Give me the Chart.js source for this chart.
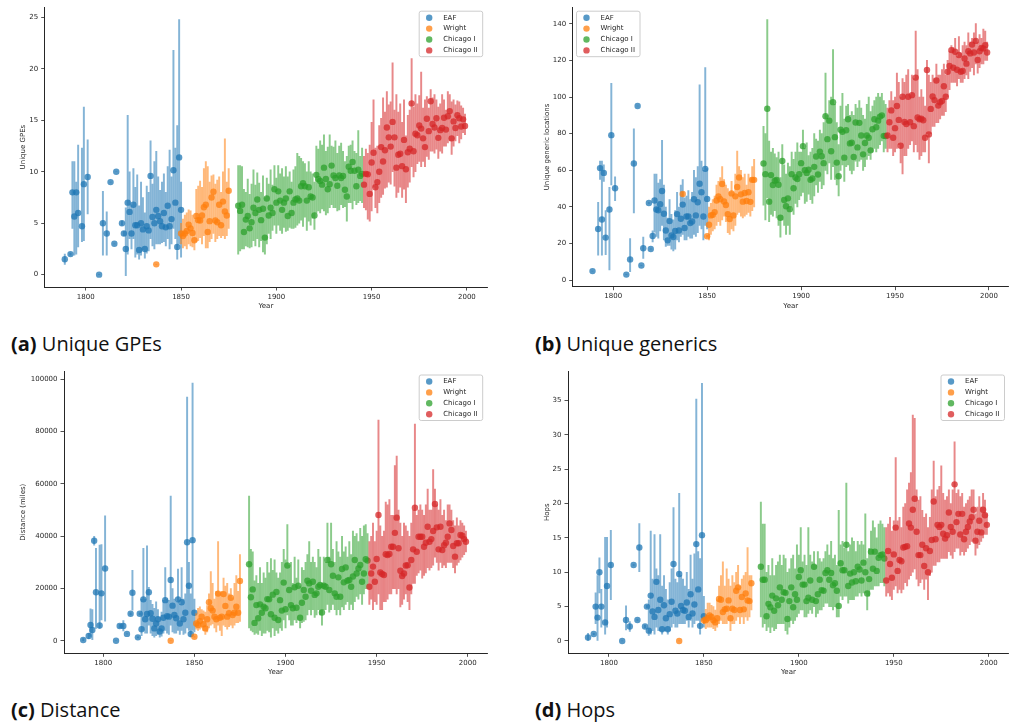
<!DOCTYPE html>
<html>
<head>
<meta charset="utf-8">
<script src="https://cdn.jsdelivr.net/npm/chart.js@4.4.0/dist/chart.umd.min.js"></script>
<style>
body { margin: 0; background: #fff; width: 1012px; height: 727px; position: relative; overflow: hidden; }
canvas { position: absolute; }
.cap { position: absolute; font-family: "Open Sans", sans-serif; font-size: 20px; line-height: 24px; color: #111; white-space: nowrap; }
.cap b { font-weight: 700; }
</style>
</head>
<body>
<canvas id="cA" width="500" height="320" style="left:0;top:0"></canvas>
<canvas id="cB" width="512" height="320" style="left:500px;top:0"></canvas>
<canvas id="cC" width="500" height="320" style="left:0;top:360px"></canvas>
<canvas id="cD" width="512" height="320" style="left:500px;top:360px"></canvas>
<div class="cap" style="left:11px;top:332px"><b>(a)</b> Unique GPEs</div>
<div class="cap" style="left:535px;top:332px"><b>(b)</b> Unique generics</div>
<div class="cap" style="left:11px;top:698px"><b>(c)</b> Distance</div>
<div class="cap" style="left:535px;top:698px"><b>(d)</b> Hops</div>
<script>
"use strict";
// series and years
var names = ["EAF", "Wright", "Chicago I", "Chicago II"];
var eafYears = [1789,1792,1793,1794,1795,1796,1798,1799,1801,1807,1809,1811,1813,1815,1816,1819,1820,
  1821,1822,1823,1824,1825,1826,1827,1828,1829,1830,1831,1832,1833,1834,1835,1836,1837,1838,1839,1840,
  1841,1842,1843,1844,1845,1846,1847,1848,1849,1850];
var wrightYears = [1837,1850,1851,1852,1853,1854,1855,1856,1857,1858,1859,1860,1861,1862,1863,1864,1865,
  1866,1867,1868,1869,1870,1871,1872,1873,1874,1875];
var chi1Years = [1880,1881,1882,1883,1884,1885,1886,1887,1888,1889,1890,1891,1892,1893,1894,1895,1896,1897,1898,1899,
  1900,1901,1902,1903,1904,1905,1906,1907,1908,1909,1910,1911,1912,1913,1914,1915,1916,1917,1918,1919,
  1920,1921,1922,1923,1924,1925,1926,1927,1928,1929,1930,1931,1932,1933,1934,1935,1936,1937,1938,1939,
  1940,1941,1942,1943,1944,1945];
var chi2Years = [1946,1947,1948,1949,1950,1951,1952,1953,1954,1955,1956,1957,1958,1959,1960,1961,1962,1963,1964,1965,
  1966,1967,1968,1969,1970,1971,1972,1973,1974,1975,1976,1977,1978,1979,1980,1981,1982,1983,1984,1985,
  1986,1987,1988,1989,1990,1991,1992,1993,1994,1995,1996,1997,1998,1999];

// tick labels
var yearTicks = [1800, 1850, 1900, 1950, 2000];
var gpeTicks = [0, 5, 10, 15, 20, 25];
var genTicks = [0, 20, 40, 60, 80, 100, 120, 140];
var distTicks = [0, 20000, 40000, 60000, 80000, 100000];
var hopTicks = [0, 5, 10, 15, 20, 25, 30, 35];

// (a) unique GPEs
var gpeEaf = [1.5,2.0,8.0,5.65,8.0,6.0,4.7,8.8,9.5,0.0,5.0,4.0,9.0,3.0,10.0,5.0,4.0,
  2.5,7.0,6.1,4.0,6.8,4.8,4.8,2.4,5.0,4.4, 2.5,4.7,4.3,9.6,5.6,5.0,6.3,5.7,5.2,4.7,
  6.0,4.6,6.7,4.7,5.4,10.15,7.0,2.7,11.4,6.3];
var gpeEafLo = [1.0,1.9,4.5,1.9,2.0,2.7,3.2,3.3,5.9,0,1.9,1.9,9,3,10,4.8,3.8,
  -0.1,2.0,3.5,2.5,3.5,1.7,2.0,1.5,1.9,2.4, 1.6,2.1,2.3,3.5,2.8,2.5,3.0,3.0,3.0,3.1,
  3.2,2.8,3.5,2.5,3.0,4.5,3.5,1.5,3.0,1.7];
var gpeEafHi = [2.0,2.1,11.0,11.0,9.0,12.6,12.3,16.3,13.1,0,8.1,6.1,9,3,10,5.2,4.2,
  6.5,15.5,10.0,6.8,10.3,8.5,9.7,6.7,9.0,7.5, 6.0,8.6,8.0,13.0,8.8,11.0,12.0,9.5,8.2,9.0,
  9.8,8.0,10.5,12.1,9.5,21.8,12.3,14.5,24.8,9.0];
var gpeWright = [1.0,4.0,3.76,4.0,4.24,4.85,4.5,4.05,3.34,5.7,5.3,5.27,5.75,6.55,6.8,4.15,5.2,7.5,8.06,5.27,5.1,6.8,4.8,7.1,6.15,5.75,8.16];
var gpeWrightLo = [1.0,3.0,2.6,2.8,2.5,3.0,2.8,2.7,2.4,3.2,3.3,3.6,3.0,3.8,2.6,2.6,3.2,3.5,4.0,3.2,3.5,3.8,3.6,3.8,3.5,3.8,4.5];
var gpeWrightHi = [1.0,5.0,5.4,5.8,6.0,6.3,6.2,5.8,5.5,8.3,8.6,9.1,8.5,10.3,11.0,10.5,9.0,9.6,9.7,8.8,9.2,9.5,8.0,10.0,13.2,9.0,10.3];
var gpeChi1 = [6.7,6.2,6.8,4.15,5.35,5.7,4.5,5.1,6.5,6.0, 7.3,6.3,5.3,6.4,3.6,7.4,5.75,6.5,6.0,8.3,
  7.0,8.1,7.2,6.3,7.0,7.4,5.7,8.1,6.0,7.0, 7.3,7.4,7.2,8.6,8.9,8.6,7.2,8.5,7.6,7.5,
  5.75,9.7,9.3,9.1,8.75,10.4,9.3,8.3,8.8,10.6, 9.65,9.4,8.65,9.65,9.4,9.6,8.25,7.6,10.5,10.1,
  10.95,10.1,8.6,10.2,9.6,9.8];
var gpeChi1Lo = [2.0,2.3,2.5,2.5,2.8,2.7,2.6,2.7,3.3,2.8, 3.5,2.7,3.3,2.2,2.0,3.0,4.0,3.5,4.3,4.8,
  4.0,4.8,4.3,4.0,4.6,4.2,4.3,4.6,4.5,4.5, 4.6,4.8,5.0,5.3,4.7,5.6,4.3,5.2,4.8,5.5,
  4.4,6.0,6.2,6.0,6.4,6.2,5.8,6.0,6.5,6.8, 6.5,6.5,6.2,6.3,6.8,6.5,6.6,5.2,7.0,7.0,
  6.4,7.2,6.8,7.0,7.2,7.0];
var gpeChi1Hi = [10.6,10.6,10.5,8.3,8.0,9.3,7.8,8.8,10.2,8.7, 9.9,8.9,8.0,9.6,7.5,9.4,8.8,10.2,8.7,10.6,
  9.4,10.6,9.8,10.3,9.5,10.5,9.5,10.0,9.0,10.2, 10.5,11.8,11.5,11.3,11.0,10.8,10.0,11.0,10.0,9.8,
  9.0,12.5,12.2,13.0,12.6,13.6,12.0,12.4,13.6,12.5, 12.4,13.0,11.8,12.5,12.8,12.0,11.0,11.5,12.5,12.6,
  13.0,12.0,11.8,14.0,11.5,12.3];
var gpeChi2 = [8.75,9.8,9.75,7.85,10.9,11.85,8.5,9.0,10.0,12.4, 11.0,12.1,14.3,13.35,12.45,14.85,13.35,10.4,11.65,11.75,
  10.55,13.1,10.25,11.9,12.25,16.65,12.0,13.7,13.55,14.5, 14.2,13.25,12.4,15.15,13.95,16.85,14.65,14.3,15.2,13.3,
  14.05,14.25,15.25,14.1,15.4,15.9,13.25,14.9,14.25,15.5, 15.2,14.4,15.1,14.45];
var gpeChi2Lo = [6.5,6.3,5.4,5.2,6.2,8.5,6.5,6.0,7.0,7.5, 7.8,8.4,8.5,9.0,8.8,10.0,8.6,7.5,8.0,8.5,
  7.5,8.3,7.0,8.5,9.0,10.5,9.5,10.0,10.8,11.0, 10.5,11.0,10.5,11.5,11.2,12.0,12.0,11.8,12.2,11.3,
  12.0,11.8,12.5,12.5,12.8,13.0,11.7,12.5,13.0,13.5, 12.8,13.2,13.8,13.6];
var gpeChi2Hi = [11.5,12.2,11.8,12.6,14.8,17.0,12.3,12.5,14.5,15.2, 17.2,15.8,17.8,16.5,16.8,20.6,16.0,17.5,15.8,16.6,
  14.8,17.0,13.5,15.5,16.0,21.0,16.3,17.5,16.6,17.4, 19.7,16.2,17.0,17.3,16.2,18.0,17.2,17.5,17.0,16.3,
  16.6,17.5,17.0,16.0,17.8,17.5,16.8,17.0,16.5,16.9, 16.8,16.4,16.2,15.6];

// (b) unique generic locations
var genEaf = [5.0,28.0,61.2,33.2,58.6,23.3,38.6,79.2,50.2,3.1,11.4,63.7,95.1,8.1,17.5,42.2,17.1,
  24.2,43.5,38.6,38.2,41.5,48.7,36.3,27.2,21.8,32.3, 24.5,23.6,26.9,36.1,27.2,33.6,41.3,28.5,34.8,34.8,
  31.2,32.1,44.2,35.4,42.6,52.7,48.0,34.8,60.8,44.4];
var genEafLo = [5.0,13.7,55,13.7,54,14,5.6,52,43.5,3.1,4.7,36.8,95.1,8.1,11.9,42,17,
  21,26.3,24,23,27,30,22,18.5,19,19, 17,16,17,22,21,24,25,22,22,24,
  23,23,25,24,26,30,28,22,30,28];
var genEafHi = [5.0,42.6,65,65,63,38,50.7,107.5,56.5,3.1,22.7,82.6,95.1,8.1,23.6,42.4,17.2,
  27,57.9,58,53,55,76.3,52,40,34,44, 36,33,38,48,40,52,55,45,46,49,
  44,48,60,56,62,106.6,65,60,116,61];
var genWright = [47.1,24.0,30.3,35.4,35.7,37.2,43.5,45.8,44.2,52.5,43,41.1,36.1,33.4,47.4,35.4,45.8,50.9,56.1,46.9,42.9,47.6,43.3,48.0,42.8,54.8,54.8];
var genWrightLo = [46,23.5,22,25,27,28,30,32,30,33,35,32,26,25,28,27,30,36,37,35,34,35,36,37,35,38,40];
var genWrightHi = [48,24.5,40,42,44,46,52,54,56,62,55,52,50,48,54,48,58,70.5,62,60,56,58,52,58,56,62,66];
var genChi1 = [63.7,57.9,93.6,42.9,57.4,52,54.3,54.7,52.1,34.1, 65.1,43.8,40.4,44.7,38.8,57.9,50.2,56.1,55.2,57.9,
  63.9,73.2,60.1,58.6,60.3,54.8,55.6,61.9,67.5,57.7, 70.2,67.7,63.9,89.5,77,87.1,70.4,97.2,78.1,64.2,
  56.8,82.1,81,66.9,81.9,87.9,74.7,75.1,67.3,86.1, 72.5,85.9,79,68.7,74.9,79,77.8,70.9,82.4,87.9,
  83.5,87.1,89.3,90,78.8,78.7];
var genChi1Lo = [41,33,45,32,36,35,38,34,30,23.5, 33,30,25,30,25,40,36,42,40,44,
  46,48,42,43,47,44,42,46,52,48, 54,50,52,60,58,64,55,62,55,52,
  46,60,63,54,62,63,60,58,60,65, 62,65,66,60,62,66,68,66,70,72,
  70,72,74,76,70,72];
var genChi1Hi = [84,80,142.3,76,70,72,69,67,70,56, 74,63,58,64,62,70,66,70,75,70,
  70,82,72,75,68,70,72,80,77,76, 82,80,86,113,90,98,100,125.9,96,86,
  74,95,102,88,95,96,90,92,90,96, 94,98,94,90,88,96,100,92,95,98,
  100,102,100,102,98,96];
var genChi2 = [79,86.2,92.7,77.8,83,95.1,87.5,73.4,100.1,86.4, 85.3,100.1,86.2,101,84.1,110.6,88.8,87.9,88.2,87.3,
  77.8,114.7,79.6,93.5,100.3,98.3,109,95.3,97.1,97.8, 105.9,100.1,113.8,116.9,125.6,116,124.7,114.9,122.9,113.8,
  114.2,121,118.2,125,123.8,128.6,124.3,130.6,120.2,125, 126.8,126.5,128.3,124.3];
var genChi2Lo = [70,72,72,68,70,72,74,64,58,68, 68,72,74,76,70,74,70,66,68,70,
  70,80,64,80,84,84,86,86,88,90, 90,92,100,104,108,108,108,106,110,108,
  108,110,112,110,114,116,112,118,113,116, 118,118,120,120];
var genChi2Hi = [94,98,103,98,100,113,108,100,110,108, 112,115,100,112,110,136,115,100,104,100,
  95,120,112,108,112,110,118,112,112,115, 118,112,120,125,128,127,132,122,133,124,
  128,130,128,135,130,132,135,140,130,134, 132,137,136,130];

// (c) distance in miles
var distEaf = [400,1900,6100,4200,38300,18600,5900,18200,27700,100,5700,5700,2700,10400,18400,1400,10400,
  4500,15900,8300,10300,18600,10600,8500,4800,6700,8300, 3600,4800,8900,15600,9500,9300,23300,13500,9900,8700,
  15900,6700,14800,8300,10800,37700,21100,2700,38500,10800];
var distEafLo = [0,900,1700,500,36600,4800,4800,8000,7600,100,5000,3800,2700,10000,11800,1200,10000,
  2000,4000,3000,3000,6000,3000,2000,1500,2000,2500, 1500,1800,3000,4000,3000,2500,6000,3500,3000,3000,
  4000,2500,4000,2500,3000,5000,4000,1500,4000,3500];
var distEafHi = [900,2900,12300,12000,40000,35400,36600,36800,47800,100,6400,7800,2700,10800,27000,1600,10800,
  16000,35400,16000,36300,20500,15500,14000,12500,15000,12000, 9000,11000,15500,28000,16000,15500,55300,20000,16000,15000,
  27500,14000,28000,16000,18000,93100,30000,18000,98500,16000];
var distWright = [100,1600,6700,6100,7600,9300,6400,4800,8300,14800,12500,11600,9300,8300,18100,8900,9300,17900,13400,9300,10600,16500,9900,10800,13100,10800,22900];
var distWrightLo = [100,1500,4500,4000,4500,5000,4000,2500,3500,5000,6000,6500,5000,3500,6000,4000,2000,6000,5500,4500,5500,6000,5000,6000,7000,7000,7500];
var distWrightHi = [100,1700,10500,12500,13000,12000,11500,11000,13500,18000,26500,22000,16000,19000,38000,18500,19000,24000,21000,22000,18000,20000,16500,22000,25000,19000,33000];
var distChi1 = [29300,16700,19700,6900,13700,8700,14000,10800,13100,12500, 16000,15900,10200,17700,8900,18700,8000,15600,11600,22300,
  12100,28800,19500,13700,12500,20500,12700,21100,8900,14600, 19500,16900,23000,22000,19200,22600,17600,18200,20700,21400,
  10900,21100,20700,30900,19500,29300,24900,18200,16900,24300, 16900,27500,22400,28100,23000,23300,20700,24600,30900,25800,
  27700,29000,22600,25800,31200,30700];
var distChi1Lo = [5000,4000,3500,2500,3000,2500,4000,2000,3000,3000, 4000,3500,1500,5000,2000,4000,3000,5000,4000,8000,
  5000,10000,8000,6000,6000,8000,7000,8000,5000,7000, 7500,8000,10000,12000,10000,12000,9000,10000,12000,10000,
  6000,12000,12000,14000,11000,12000,14000,12000,10000,12000, 10000,13000,12000,14000,15000,12000,14000,12000,15000,17000,
  16000,18000,14000,18000,20000,20000];
var distChi1Hi = [55300,35000,34000,23000,25000,22000,28000,22000,26000,24000, 30000,26000,31500,27000,31000,26000,24000,26000,30000,35000,
  31000,44500,29000,30000,22000,32000,24000,31000,21000,28000, 27000,30000,33000,38000,30000,32000,30000,28000,35000,32000,
  22000,32000,30000,45000,32000,45000,35000,30000,38000,34000, 32000,40000,34000,36000,32000,38000,33000,42000,40000,41000,
  38000,43000,40000,44000,44500,41000];
var distChi2 = [20700,25800,28400,22600,31300,48100,26200,25600,25200,33100, 32800,33200,36000,36000,41300,47100,35400,26800,24800,25800,
  28800,28900,20400,30900,35000,50900,34100,39800,39800,39800, 36000,37500,43600,37900,38900,42000,52300,43400,35000,43600,
  34700,36600,37500,39800,44900,42400,36300,32200,37300,37300, 40500,40200,38900,37900];
var distChi2Lo = [14000,16000,12000,15000,14000,18000,12000,12000,15000,15000, 16000,18000,18000,20000,20000,18000,20000,13000,14000,16000,
  18000,15000,12000,18000,22000,22000,25000,26000,27000,24000, 25000,26000,28000,27000,28000,29000,32000,30000,27000,30000,
  28000,29000,28000,30000,30000,30000,28000,26000,29000,30000, 31000,32000,33000,34000];
var distChi2Hi = [38000,40000,45000,38000,42000,84400,44000,40000,42000,53000, 52000,54000,48000,48000,67000,70600,50000,45000,40000,45000,
  44000,42000,40000,45000,50000,82800,48000,50000,52000,50000, 48000,52000,58000,50000,50000,65500,58000,52000,50000,54000,
  48000,50000,46000,52000,52000,50000,46000,44000,47000,44000, 46000,45000,44000,42000];

// (d) hops
var hopEaf = [0.5,1.0,5.0,3.4,10.0,5.0,2.7,8.0,11.05,0,3.05,2.1,11.05,3.05,13.6,2.1,5.0,
  1.5,6.6,4.3,3.5,8.6,4.5,6.0,1.7,5.2,3.3, 1.7,3.9,5.7,11.2,4.4,4.0,9.75,5.1,4.5,4.4,
  5.6,3.5,6.8,4.0,5.3,14.1,7.5,2.2,15.4,3.6];
var hopEafLo = [0,0.9,2.5,0,7.0,2.0,1.0,2.0,6.0,0,1.6,1.4,11,3,10.1,1.9,4.8,
  0.8,1.0,1.5,1.0,2.0,1.5,1.5,1.0,1.5,1.5, 1.0,1.5,2.0,2.5,2.0,2.0,2.5,2.5,2.5,2.5,
  3.0,2.0,3.0,2.0,2.5,3.0,3.0,1.0,3.0,2.0];
var hopEafHi = [1.1,1.1,7.0,9.5,12.1,7.5,15.1,15.1,16.1,0,5.1,2.8,11.1,3.1,17.1,2.3,5.2,
  6.0,16.0,9.0,15.5,10.5,9.5,15.5,8.0,9.5,7.5, 6.0,8.5,10.5,19.4,9.0,8.5,21.5,9.5,9.0,8.0,
  10.0,7.5,12.5,9.0,12.7,35.2,13.0,12.0,37.5,6.5];
var hopWright = [0,3.0,3.0,3.3,3.7,3.5,3.0,2.7,3.3,6.1,6.0,4.2,4.6,4.7,5.9,3.3,4.7,4.5,7.3,7.8,4.5,6.4,4.6,6.9,5.9,5.8,8.4];
var hopWrightLo = [0,2.5,1.8,2.0,2.0,2.0,1.8,1.5,2.0,2.5,3.0,2.5,2.5,2.5,3.0,1.5,2.5,2.5,3.0,3.5,2.5,3.5,2.5,3.5,3.0,3.5,4.5];
var hopWrightHi = [0,3.5,4.6,5.5,5.5,5.2,5.0,4.5,6.0,8.0,9.5,11.5,8.0,10.5,9.0,8.0,9.5,8.5,10.0,11.0,8.0,9.0,9.5,10.0,13.6,9.5,9.5];
var hopChi1 = [10.8,8.9,8.9,3.6,5.4,4.9,6.6,4.4,6.2,5.2, 7.8,6.0,7.1,7.0,3.2,5.8,7.8,4.9,6.8,6.0,
  9.3,10.3,8.2,8.2,5.8,6.3,8.8,6.0,10.8,5.8, 6.8,8.9,7.4,7.3,9.9,10.3,8.9,9.9,8.1,8.4,
  7.3,5.1,11.3,10.3,10.3,14.0,8.0,9.8,8.5,10.0, 8.7,10.8,10.4,8.8,11.4,10.0,6.9,9.0,13.0,10.5,
  13.0,10.2,12.1,12.5,12.6,12.0];
var hopChi1Lo = [3.5,2.0,2.5,1.5,2.0,1.2,2.0,1.5,1.8,2.5, 2.5,2.5,2.5,1.5,1.0,2.0,3.0,2.5,3.0,3.5,
  4.0,4.5,4.5,3.5,3.5,4.0,4.5,4.0,5.0,3.5, 4.0,4.5,4.5,5.0,5.5,5.5,5.0,5.0,4.5,5.0,
  3.5,3.5,6.5,6.0,6.5,6.5,5.5,6.0,6.0,6.0, 6.5,6.5,7.0,6.5,7.0,7.0,4.5,6.5,7.5,7.5,
  8.0,8.0,8.0,8.5,8.5,8.0];
var hopChi1Hi = [20.2,17.0,17.0,10.0,11.0,9.5,12.0,9.5,11.0,11.5, 12.5,11.0,12.5,12.0,10.0,10.5,12.0,12.5,10.5,14.0,
  12.5,16.5,11.5,12.5,11.0,16.5,12.5,11.5,13.0,11.0, 13.0,12.0,11.5,12.0,13.0,14.0,12.5,14.5,12.0,12.5,
  11.0,19.0,14.0,14.5,13.5,23.0,13.0,14.0,15.0,14.5, 13.0,14.5,14.0,14.5,14.0,18.5,12.0,13.5,16.0,17.5,
  16.5,15.0,17.0,17.5,17.0,16.5];
var hopChi2 = [8.8,13.1,11.2,9.2,12.6,16.5,10.2,11.8,11.6,13.6, 13.7,13.8,17.1,16.5,19.1,20.7,15.9,12.5,12.5,14.0,
  10.9,13.5,10.0,13.1,14.7,20.3,14.8,16.9,16.6,16.9, 15.6,14.9,15.4,18.7,16.6,15.9,22.8,17.3,18.5,15.5,
  18.5,14.8,15.9,16.6,17.4,18.0,19.1,14.6,15.9,17.5, 15.8,19.1,18.3,16.9];
var hopChi2Lo = [6.5,7.0,6.5,6.0,7.5,8.0,7.0,7.5,7.0,7.5, 8.5,8.0,9.0,9.5,10.0,10.5,9.0,8.0,8.5,9.0,
  7.5,9.0,6.0,9.5,10.0,11.0,11.0,11.5,11.5,12.0, 12.0,12.0,12.0,13.0,12.5,12.0,13.0,13.5,13.5,12.5,
  13.0,12.5,13.0,13.5,14.0,14.5,14.5,12.5,13.5,14.0, 14.5,15.0,15.5,15.5];
var hopChi2Hi = [16.5,17.0,18.0,16.0,17.5,26.7,17.5,18.0,16.5,19.5, 20.0,22.0,23.0,24.5,32.9,32.4,22.0,20.5,21.0,19.0,
  18.0,18.5,16.5,18.0,22.0,26.2,21.0,22.0,22.5,25.5, 21.5,20.5,21.0,22.0,20.0,22.0,29.0,21.5,22.0,21.0,
  21.5,19.5,20.0,20.5,21.0,22.0,22.0,18.5,19.5,21.0, 19.5,21.5,20.5,18.5];

var rgb = ["31,119,180", "255,127,14", "44,160,44", "214,39,40"];
var ink = "#262626";
var font7 = { family: "DejaVu Sans", size: 7 };

// matplotlib-like legend box with a frame
var legendBox = {
  id: "legendBox",
  afterDatasetsDraw: function(chart, args, opts) {
    var ctx = chart.ctx, a = chart.chartArea;
    var w = 63.5, h = 45.5;
    var x = opts.side === "left" ? a.left + 3.8 : a.right - 4.3 - w;
    var y = a.top + 4;
    ctx.save();
    ctx.fillStyle = "rgba(255,255,255,0.8)";
    ctx.strokeStyle = "#cccccc";
    ctx.lineWidth = 1;
    ctx.beginPath();
    ctx.roundRect(x, y, w, h, 2);
    ctx.fill();
    ctx.stroke();
    ctx.font = '7px "DejaVu Sans"';
    ctx.textBaseline = "middle";
    names.forEach(function(n, i) {
      var cy = y + 6.5 + i * 10.9;
      ctx.fillStyle = "rgba(" + rgb[i] + ",0.75)";
      ctx.beginPath();
      ctx.arc(x + 10, cy, 3.2, 0, Math.PI * 2);
      ctx.fill();
      ctx.fillStyle = ink;
      ctx.fillText(n, x + 24, cy);
    });
    ctx.restore();
  }
};

function buildSets(years, vals, los, his) {
  var sets = [];
  for (var s = 0; s < 4; s++) {
    var yrs = years[s];
    sets.push({
      type: "bar",
      label: names[s] + " CI",
      data: yrs.map(function(x, i) { return { x: x, y: [los[s][i], his[s][i]] }; }),
      backgroundColor: "rgba(" + rgb[s] + ",0.55)",
      borderWidth: 0,
      grouped: false,
      barThickness: 1.3,
      maxBarThickness: 1.3,
      order: 8 - 2 * s
    });
    sets.push({
      type: "scatter",
      label: names[s],
      data: yrs.map(function(x, i) { return { x: x, y: vals[s][i] }; }),
      backgroundColor: "rgba(" + rgb[s] + ",0.75)",
      pointRadius: 3.2,
      pointHoverRadius: 3.2,
      pointBorderWidth: 0,
      order: 7 - 2 * s
    });
  }
  return sets;
}

function drawPanel(id, p) {
  var cv = document.getElementById(id);
  var W = cv.width, H = cv.height;
  new Chart(cv, {
    type: "scatter",
    data: { datasets: buildSets([eafYears, wrightYears, chi1Years, chi2Years], p.vals, p.los, p.his) },
    plugins: [legendBox],
    options: {
      responsive: false,
      animation: false,
      devicePixelRatio: 1,
      layout: { padding: { left: 0, top: p.area.t, right: W - p.area.r, bottom: 0 } },
      plugins: {
        legend: { display: false },
        tooltip: { enabled: false },
        legendBox: { side: p.side }
      },
      scales: {
        x: {
          type: "linear",
          offset: false,
          min: 1778.45,
          max: 2010.55,
          afterBuildTicks: function(s) { s.ticks = yearTicks.map(function(v) { return { value: v }; }); },
          afterFit: function(s) { s.height = H - p.area.b; },
          grid: { display: true, drawOnChartArea: false, drawTicks: true, tickLength: 3.5, color: ink, lineWidth: 0.8, offset: false },
          border: { display: true, color: ink, width: 1 },
          ticks: { font: font7, color: ink, padding: 2, maxRotation: 0, callback: function(v) { return String(v); } },
          title: { display: true, text: "Year", font: font7, color: ink, padding: { top: 0, bottom: H - p.area.b - 19 - 4.2 } }
        },
        y: {
          type: "linear",
          min: p.min,
          max: p.max,
          afterBuildTicks: function(s) { s.ticks = p.ticks.map(function(v) { return { value: v }; }); },
          afterFit: function(s) { s.width = p.area.l; },
          grid: { display: true, drawOnChartArea: false, drawTicks: true, tickLength: 3.5, color: ink, lineWidth: 0.8 },
          border: { display: true, color: ink, width: 1 },
          ticks: { font: font7, color: ink, padding: 3, callback: function(v) { return String(v); } },
          title: { display: true, text: p.title, font: font7, color: ink, padding: { top: p.titleX - 4.2, bottom: 0 } }
        }
      }
    }
  });
}

drawPanel("cA", {
  area: { l: 44.7, r: 487, t: 5, b: 287 }, title: "Unique GPEs", titleX: 23.3, side: "right",
  min: -1.2, max: 26.0, ticks: gpeTicks,
  vals: [gpeEaf, gpeWright, gpeChi1, gpeChi2], los: [gpeEafLo, gpeWrightLo, gpeChi1Lo, gpeChi2Lo], his: [gpeEafHi, gpeWrightHi, gpeChi1Hi, gpeChi2Hi]
});
drawPanel("cB", {
  area: { l: 72.7, r: 509, t: 5, b: 286.7 }, title: "Unique generic locations", titleX: 46.7, side: "left",
  min: -3.5, max: 149, ticks: genTicks,
  vals: [genEaf, genWright, genChi1, genChi2], los: [genEafLo, genWrightLo, genChi1Lo, genChi2Lo], his: [genEafHi, genWrightHi, genChi1Hi, genChi2Hi]
});
drawPanel("cC", {
  area: { l: 64, r: 487, t: 11, b: 293.3 }, title: "Distance (miles)", titleX: 23.3, side: "right",
  min: -4700, max: 103100, ticks: distTicks,
  vals: [distEaf, distWright, distChi1, distChi2], los: [distEafLo, distWrightLo, distChi1Lo, distChi2Lo], his: [distEafHi, distWrightHi, distChi1Hi, distChi2Hi]
});
drawPanel("cD", {
  area: { l: 68, r: 509, t: 11, b: 293.3 }, title: "Hops", titleX: 46.7, side: "right",
  min: -1.8, max: 39.3, ticks: hopTicks,
  vals: [hopEaf, hopWright, hopChi1, hopChi2], los: [hopEafLo, hopWrightLo, hopChi1Lo, hopChi2Lo], his: [hopEafHi, hopWrightHi, hopChi1Hi, hopChi2Hi]
});
</script>
</body>
</html>
